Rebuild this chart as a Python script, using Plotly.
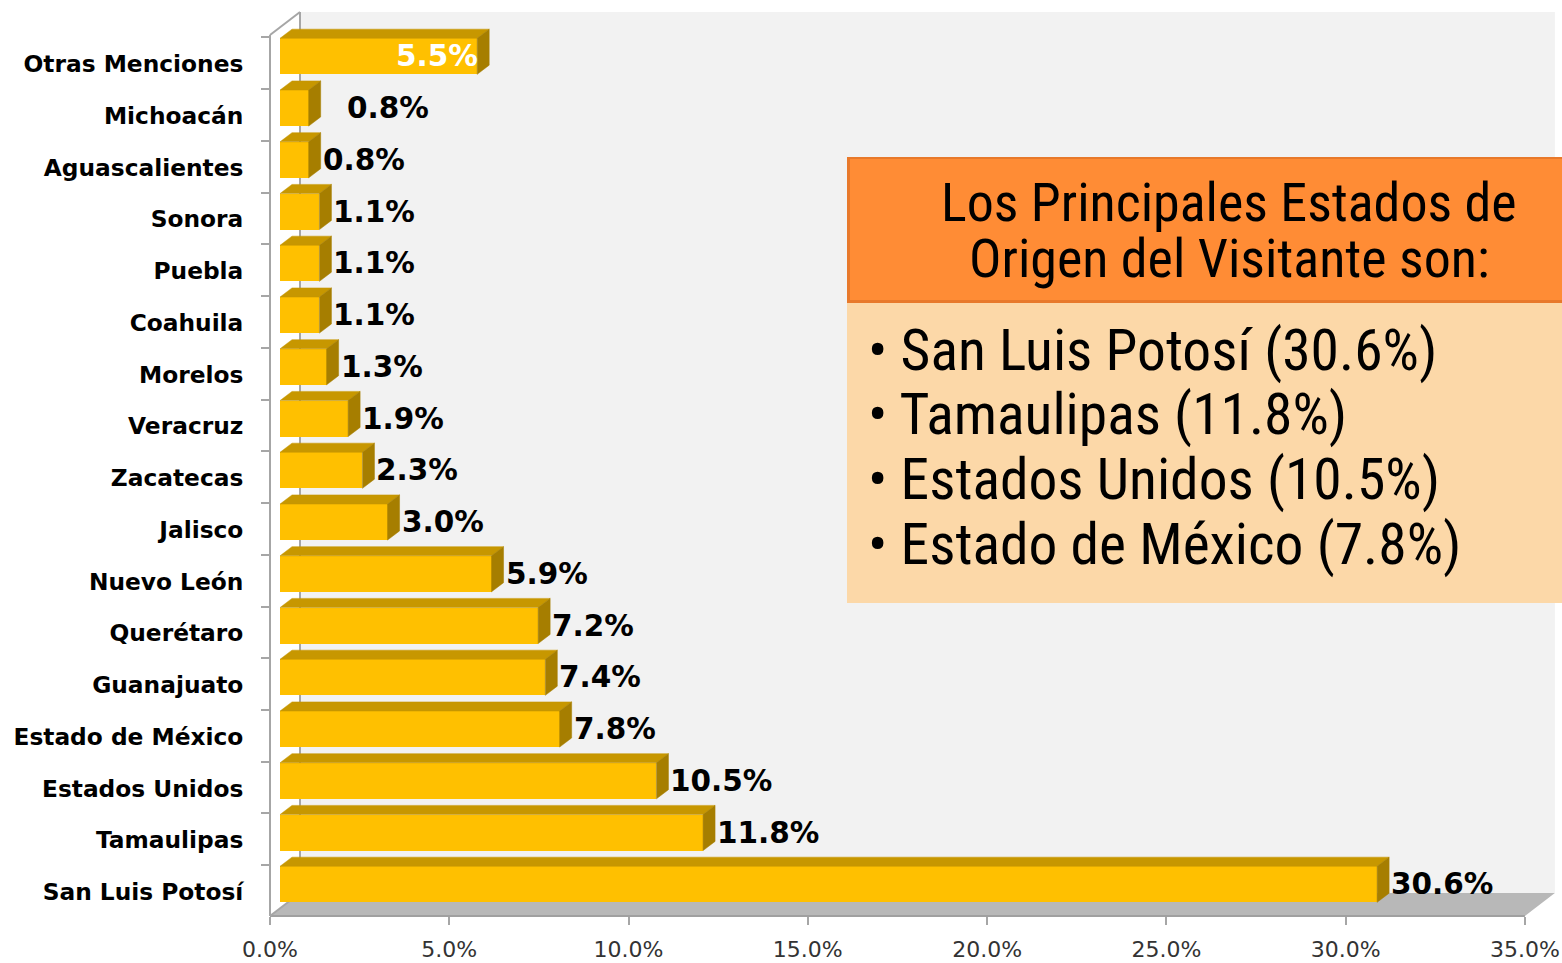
import plotly.graph_objects as go

# ---- data -------------------------------------------------------------
categories = [
    "San Luis Potosí", "Tamaulipas", "Estados Unidos", "Estado de México",
    "Guanajuato", "Querétaro", "Nuevo León", "Jalisco", "Zacatecas",
    "Veracruz", "Morelos", "Coahuila", "Puebla", "Sonora",
    "Aguascalientes", "Michoacán", "Otras Menciones",
]
values = [30.6, 11.8, 10.5, 7.8, 7.4, 7.2, 5.9, 3.0, 2.3,
          1.9, 1.3, 1.1, 1.1, 1.1, 0.8, 0.8, 5.5]
x_ticks = [0, 5, 10, 15, 20, 25, 30, 35]
x_tick_labels = ["0.0%", "5.0%", "10.0%", "15.0%", "20.0%", "25.0%", "30.0%", "35.0%"]

box_title = ["Los Principales Estados de", "Origen del Visitante son:"]
n_highlight = 4

# ---- pseudo-3D geometry (axis units) -----------------------------------
W, H = 1562, 963
M_L, M_R, M_T, M_B = 270, 7, 12, 47
XMIN, XMAX = 0.0, 35.84
YMIN, YMAX = -0.4638, 17.005
DX, DY = 0.8367, 0.444          # full depth offset of the floor / walls
D_FRONT, D_BAR = 1 / 3, 0.4     # bar front plane and bar thickness (fractions of depth)
BAR_W = 0.696

FRONT = "#FFC000"
TOP = "#C79700"
SIDE = "#A67E00"
GRID = "#A6A6A6"

plot_w = W - M_L - M_R
plot_h = H - M_T - M_B


def pxp(xv):
    return (xv - XMIN) / (XMAX - XMIN)


def pyp(yv):
    return (yv - YMIN) / (YMAX - YMIN)


def pix_x(p):
    return (p - M_L) / plot_w


def pix_y(p):
    return (H - M_B - p) / plot_h


ypos = list(range(len(categories)))
x0 = D_FRONT * DX
yc = [i + D_FRONT * DY for i in ypos]
bdx, bdy = D_BAR * DX, D_BAR * DY
h = BAR_W / 2

# top and side faces of each bar
top_x, top_y, side_x, side_y = [], [], [], []
for v, c in zip(values, yc):
    yt, yb = c + h, c - h
    top_x += [x0, x0 + v, x0 + v + bdx, x0 + bdx, x0, None]
    top_y += [yt, yt, yt + bdy, yt + bdy, yt, None]
    side_x += [x0 + v, x0 + v, x0 + v + bdx, x0 + v + bdx, x0 + v, None]
    side_y += [yt, yb, yb + bdy, yt + bdy, yt, None]

fig = go.Figure()
fig.add_trace(go.Bar(
    y=yc, x=values, base=x0, width=BAR_W, orientation="h",
    marker=dict(color=FRONT, line=dict(width=0)),
    hoverinfo="skip", showlegend=False,
))
fig.add_trace(go.Scatter(
    x=top_x, y=top_y, mode="lines", fill="toself", fillcolor=TOP,
    line=dict(color=TOP, width=0.5), hoverinfo="skip", showlegend=False,
))
fig.add_trace(go.Scatter(
    x=side_x, y=side_y, mode="lines", fill="toself", fillcolor=SIDE,
    line=dict(color=SIDE, width=0.5), hoverinfo="skip", showlegend=False,
))
# carrier for the category tick marks
fig.add_trace(go.Scatter(
    x=[XMIN], y=[YMIN], yaxis="y2", mode="markers",
    marker=dict(opacity=0), hoverinfo="skip", showlegend=False,
))

# ---- value labels --------------------------------------------------------
LABEL_SIZE = 29.5
annotations = []
for cat, v, c in zip(categories, values, yc):
    if cat == "Otras Menciones":
        annotations.append(dict(
            x=x0 + v, y=c, xref="x", yref="y", text=f"{v:.1f}%",
            showarrow=False, xanchor="right", yanchor="middle", xshift=3,
            font=dict(family="DejaVu Sans", size=LABEL_SIZE, color="white", weight="bold"),
        ))
    else:
        annotations.append(dict(
            x=x0 + v + bdx, y=c, xref="x", yref="y", text=f"{v:.1f}%",
            showarrow=False, xanchor="left", yanchor="middle",
            xshift=24 if cat == "Michoacán" else 0,
            font=dict(family="DejaVu Sans", size=LABEL_SIZE, color="black", weight="bold"),
        ))

# ---- callout box ---------------------------------------------------------
BOX_L, BOX_R = 847, 1562
HEAD_T, HEAD_B, BODY_B = 157, 302, 603
box_font = "Liberation Sans Narrow, Arial Narrow, Roboto Condensed, sans-serif"

for line, yy in zip(box_title, [203, 258]):
    annotations.append(dict(
        x=pix_x(1229), y=pix_y(yy), xref="paper", yref="paper", text=line,
        showarrow=False, xanchor="center", yanchor="middle",
        font=dict(family=box_font, size=54, color="black"),
    ))

ranked = sorted(zip(values, categories), reverse=True)[:n_highlight]
for (v, cat), yy in zip(ranked, [350, 414, 479, 544]):
    annotations.append(dict(
        x=pix_x(866), y=pix_y(yy), xref="paper", yref="paper",
        text=f"• {cat} ({v:.1f}%)",
        showarrow=False, xanchor="left", yanchor="middle",
        font=dict(family=box_font, size=57.5, color="black"),
    ))

# ---- walls, floor and frame ---------------------------------------------
yb_front, yb_back = YMIN, YMIN + DY
shapes = [
    # back wall
    dict(type="rect", xref="paper", yref="paper", layer="below",
         x0=pxp(DX), x1=pxp(35 + DX), y0=pyp(yb_back), y1=pyp(YMAX),
         fillcolor="#F2F2F2", line=dict(width=0)),
    # floor
    dict(type="path", xref="paper", yref="paper", layer="below",
         path=(f"M {pxp(0)} {pyp(yb_front)} L {pxp(35)} {pyp(yb_front)} "
               f"L {pxp(35 + DX)} {pyp(yb_back)} L {pxp(DX)} {pyp(yb_back)} Z"),
         fillcolor="#B8B8B8", line=dict(width=0)),
    # back-left edge
    dict(type="line", xref="paper", yref="paper", layer="below",
         x0=pxp(DX), x1=pxp(DX), y0=pyp(yb_back), y1=pyp(YMAX),
         line=dict(color=GRID, width=2)),
    # front floor edge
    dict(type="line", xref="paper", yref="paper", layer="below",
         x0=pxp(0), x1=pxp(35), y0=pyp(yb_front), y1=pyp(yb_front),
         line=dict(color="#A0A0A0", width=2)),
    # left axis line
    dict(type="line", xref="paper", yref="paper", layer="above",
         x0=pxp(0), x1=pxp(0), y0=pyp(yb_front), y1=pyp(YMAX - DY),
         line=dict(color=GRID, width=2)),
    # top and bottom side diagonals
    dict(type="line", xref="paper", yref="paper", layer="above",
         x0=pxp(0), x1=pxp(DX), y0=pyp(YMAX - DY), y1=pyp(YMAX),
         line=dict(color=GRID, width=2)),
    dict(type="line", xref="paper", yref="paper", layer="below",
         x0=pxp(0), x1=pxp(DX), y0=pyp(yb_front), y1=pyp(yb_back),
         line=dict(color=GRID, width=2)),
    # callout body and header (with a soft edge on the header)
    dict(type="rect", xref="paper", yref="paper", layer="above",
         x0=pix_x(BOX_L), x1=pix_x(BOX_R), y0=pix_y(BODY_B), y1=pix_y(HEAD_B),
         fillcolor="#FCD8A8", line=dict(width=0)),
    dict(type="rect", xref="paper", yref="paper", layer="above",
         x0=pix_x(BOX_L), x1=pix_x(BOX_R), y0=pix_y(HEAD_B + 1), y1=pix_y(HEAD_T),
         fillcolor="#E8792B", line=dict(width=0)),
    dict(type="rect", xref="paper", yref="paper", layer="above",
         x0=pix_x(BOX_L + 3), x1=pix_x(BOX_R), y0=pix_y(HEAD_B - 2), y1=pix_y(HEAD_T + 2),
         fillcolor="#FF8C35", line=dict(width=0)),
]

fig.update_layout(
    width=W, height=H, autosize=False,
    margin=dict(l=M_L, r=M_R, t=M_T, b=M_B, pad=0, autoexpand=False),
    paper_bgcolor="white", plot_bgcolor="white",
    bargap=0, barmode="overlay",
    xaxis=dict(
        range=[XMIN, XMAX], tickvals=x_ticks, ticktext=x_tick_labels,
        ticks="outside", ticklen=8, tickwidth=2, tickcolor=GRID,
        ticklabelstandoff=6, automargin=False,
        showline=False, showgrid=False, zeroline=False, fixedrange=True,
        tickfont=dict(family="DejaVu Sans", size=22, color="#333333"),
    ),
    yaxis=dict(
        range=[YMIN, YMAX], tickvals=ypos, ticktext=categories,
        ticks="outside", ticklen=8, tickcolor="rgba(0,0,0,0)",
        ticklabelstandoff=13, automargin=False,
        showline=False, showgrid=False, zeroline=False, fixedrange=True,
        tickfont=dict(family="DejaVu Sans", size=23.3, color="black", weight="bold"),
    ),
    yaxis2=dict(
        range=[YMIN, YMAX], overlaying="y", side="left", automargin=False,
        tickvals=[k - 0.483 for k in range(len(categories) + 1)],
        ticks="outside", ticklen=8, tickwidth=2, tickcolor=GRID,
        showticklabels=False, showline=False, showgrid=False,
        zeroline=False, fixedrange=True,
    ),
    shapes=shapes,
    annotations=annotations,
)

fig.write_html("out.html")
